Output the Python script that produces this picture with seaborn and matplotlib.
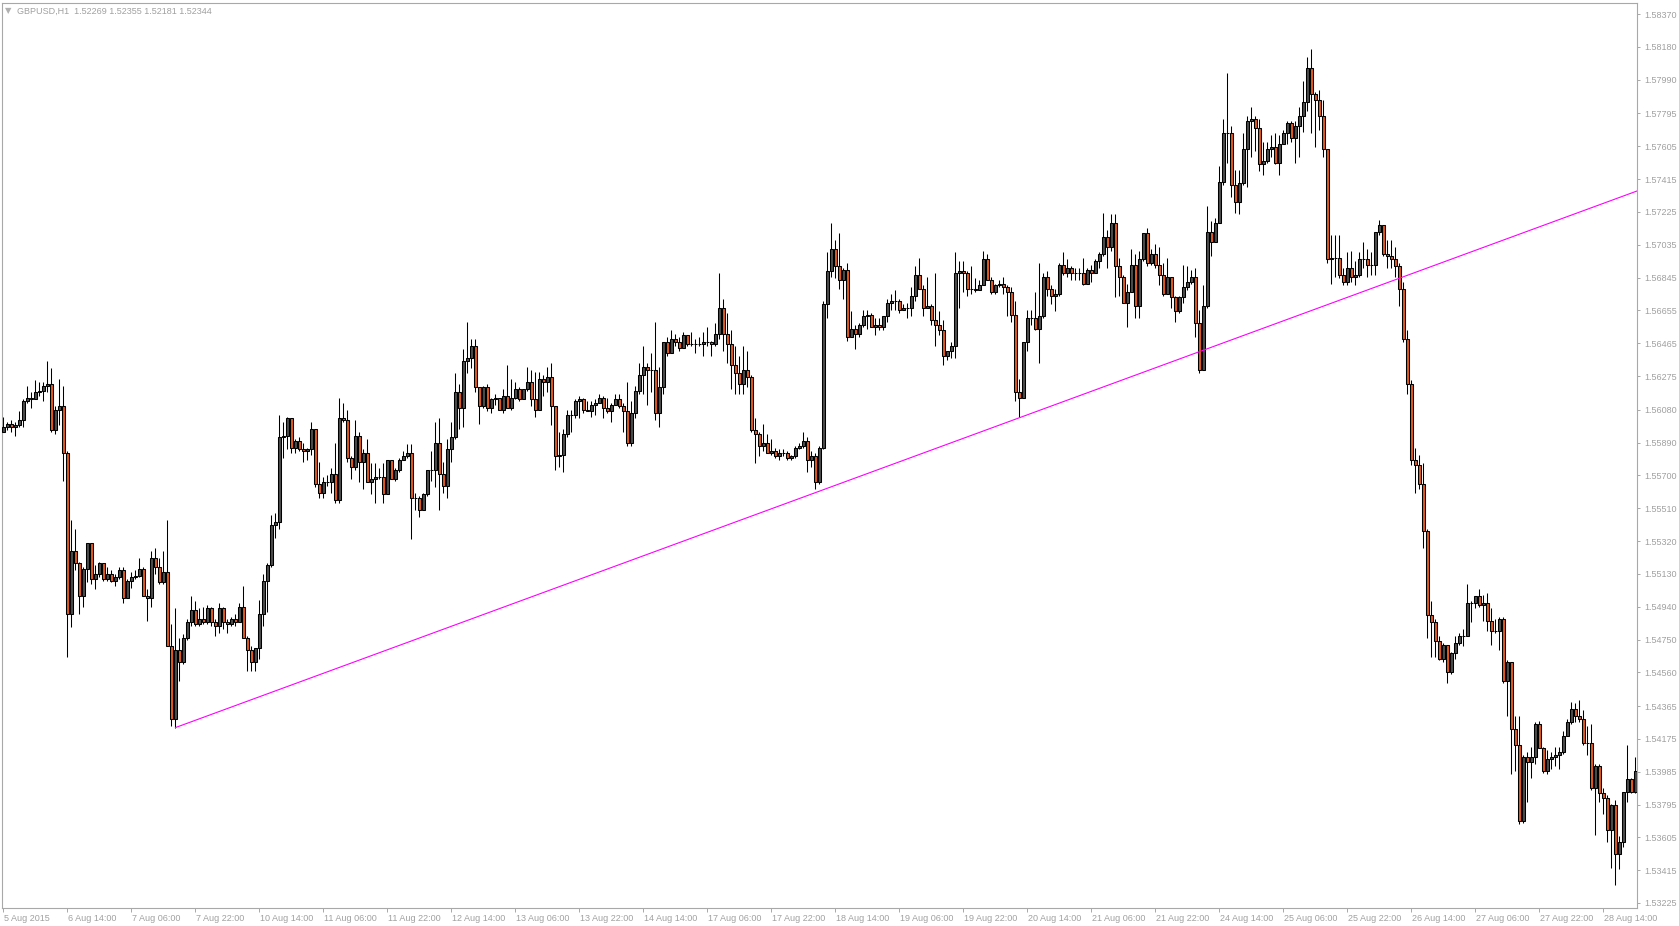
import numpy as np
import pandas as pd
import matplotlib
matplotlib.use("Agg")
import matplotlib.pyplot as plt
import matplotlib.transforms as mtransforms
import seaborn as sns

# ---------------- data ----------------
title_text = "GBPUSD,H1  1.52269 1.52355 1.52181 1.52344"

first_open = 1.5595

closes = [
    1.5598, 1.5600, 1.5598, 1.5599, 1.5602, 1.5613, 1.5615, 1.5614, 1.5618, 1.5619,
    1.5622, 1.5623, 1.5596, 1.5608, 1.5610, 1.5583, 1.5490, 1.5526, 1.5519, 1.5500,
    1.5516, 1.5531, 1.5510, 1.5513, 1.5519, 1.5510, 1.5513, 1.5509, 1.5511, 1.5515,
    1.5499, 1.5509, 1.5511, 1.5512, 1.5516, 1.5500, 1.5499, 1.5522, 1.5517, 1.5508,
    1.5514, 1.5471, 1.5429, 1.5469, 1.5462, 1.5476, 1.5485, 1.5492, 1.5484, 1.5487,
    1.5485, 1.5493, 1.5485, 1.5483, 1.5493, 1.5485, 1.5484, 1.5487, 1.5485, 1.5494,
    1.5476, 1.5469, 1.5462, 1.5470, 1.5490, 1.5509, 1.5518, 1.5541, 1.5543, 1.5592,
    1.5593, 1.5603, 1.5586, 1.5590, 1.5585, 1.5584, 1.5585, 1.5597, 1.5565, 1.5560,
    1.5566, 1.5566, 1.5571, 1.5556, 1.5603, 1.5602, 1.5580, 1.5575, 1.5593, 1.5578,
    1.5583, 1.5566, 1.5568, 1.5569, 1.5569, 1.5559, 1.5579, 1.5568, 1.5573, 1.5579,
    1.5581, 1.5583, 1.5557, 1.5557, 1.5550, 1.5559, 1.5573, 1.5573, 1.5589, 1.5571,
    1.5564, 1.5585, 1.5592, 1.5618, 1.5609, 1.5636, 1.5638, 1.5645, 1.5621, 1.5610,
    1.5621, 1.5609, 1.5614, 1.5615, 1.5608, 1.5616, 1.5609, 1.5615, 1.5620, 1.5614,
    1.5620, 1.5624, 1.5614, 1.5608, 1.5626, 1.5624, 1.5627, 1.5610, 1.5581, 1.5582,
    1.5594, 1.5605, 1.5605, 1.5613, 1.5614, 1.5608, 1.5607, 1.5611, 1.5612, 1.5615,
    1.5609, 1.5607, 1.5611, 1.5614, 1.5610, 1.5607, 1.5589, 1.5606, 1.5619, 1.5628,
    1.5633, 1.5631, 1.5631, 1.5606, 1.5621, 1.5647, 1.5641, 1.5649, 1.5647, 1.5644,
    1.5651, 1.5646, 1.5646, 1.5646, 1.5646, 1.5647, 1.5647, 1.5646, 1.5652, 1.5667,
    1.5652, 1.5646, 1.5634, 1.5629, 1.5623, 1.5631, 1.5627, 1.5596, 1.5594, 1.5587,
    1.5589, 1.5583, 1.5584, 1.5581, 1.5583, 1.5583, 1.5580, 1.5581, 1.5586, 1.5587,
    1.5590, 1.5579, 1.5581, 1.5566, 1.5586, 1.5669, 1.5688, 1.5701, 1.5691, 1.5683,
    1.5689, 1.5650, 1.5655, 1.5652, 1.5657, 1.5662, 1.5663, 1.5656, 1.5657, 1.5656,
    1.5662, 1.5670, 1.5671, 1.5671, 1.5666, 1.5667, 1.5667, 1.5674, 1.5686, 1.5678,
    1.5667, 1.5668, 1.5660, 1.5657, 1.5654, 1.5639, 1.5642, 1.5645, 1.5687, 1.5688,
    1.5687, 1.5678, 1.5678, 1.5677, 1.5680, 1.5695, 1.5683, 1.5676, 1.5680, 1.5681,
    1.5679, 1.5676, 1.5663, 1.5618, 1.5615, 1.5647, 1.5661, 1.5661, 1.5655, 1.5662,
    1.5685, 1.5678, 1.5674, 1.5675, 1.5692, 1.5687, 1.5690, 1.5687, 1.5687, 1.5687,
    1.5681, 1.5689, 1.5687, 1.5694, 1.5698, 1.5708, 1.5702, 1.5716, 1.5691, 1.5685,
    1.5670, 1.5676, 1.5692, 1.5668, 1.5695, 1.5710, 1.5693, 1.5698, 1.5692, 1.5686,
    1.5675, 1.5685, 1.5673, 1.5665, 1.5673, 1.5679, 1.5682, 1.5685, 1.5658, 1.5631,
    1.5668, 1.5711, 1.5705, 1.5716, 1.5740, 1.5768, 1.5768, 1.5738, 1.5728, 1.5739,
    1.5759, 1.5775, 1.5776, 1.5771, 1.5750, 1.5752, 1.5759, 1.5760, 1.5751, 1.5762,
    1.5768, 1.5774, 1.5765, 1.5772, 1.5778, 1.5786, 1.5806, 1.5791, 1.5787, 1.5778,
    1.5759, 1.5695, 1.5696, 1.5696, 1.5686, 1.5682, 1.5690, 1.5685, 1.5686, 1.5695,
    1.5695, 1.5692, 1.5692, 1.5711, 1.5715, 1.5698, 1.5697, 1.5695, 1.5691, 1.5678,
    1.5649, 1.5623, 1.5579, 1.5576, 1.5565, 1.5538, 1.5489, 1.5485, 1.5474, 1.5464,
    1.5472, 1.5456, 1.5467, 1.5473, 1.5477, 1.5477, 1.5496, 1.5496, 1.5500, 1.5495,
    1.5496, 1.5486, 1.5480, 1.5480, 1.5487, 1.5451, 1.5462, 1.5423, 1.5414, 1.5370,
    1.5407, 1.5404, 1.5407, 1.5426, 1.5412, 1.5399, 1.5406, 1.5407, 1.5408, 1.5410,
    1.5419, 1.5427, 1.5435, 1.5431, 1.5429, 1.5415, 1.5415, 1.5389, 1.5402, 1.5386,
    1.5383, 1.5365, 1.5379, 1.5351, 1.5358, 1.5387, 1.5394, 1.5387, 1.5399,
]

highs = [
    1.5604, 1.5601, 1.5602, 1.5601, 1.5607, 1.5614, 1.5622, 1.5618, 1.5625, 1.5624,
    1.5624, 1.5636, 1.5632, 1.5610, 1.5626, 1.5622, 1.5584, 1.5544, 1.5539, 1.5520,
    1.5517, 1.5531, 1.5531, 1.5518, 1.5520, 1.5519, 1.5517, 1.5515, 1.5513, 1.5517,
    1.5517, 1.5510, 1.5514, 1.5515, 1.5522, 1.5517, 1.5504, 1.5526, 1.5528, 1.5522,
    1.5526, 1.5544, 1.5484, 1.5493, 1.5476, 1.5478, 1.5487, 1.5500, 1.5497, 1.5493,
    1.5494, 1.5495, 1.5494, 1.5487, 1.5496, 1.5494, 1.5487, 1.5488, 1.5490, 1.5496,
    1.5506, 1.5477, 1.5471, 1.5470, 1.5498, 1.5513, 1.5519, 1.5547, 1.5548, 1.5605,
    1.5601, 1.5604, 1.5603, 1.5591, 1.5592, 1.5589, 1.5586, 1.5601, 1.5597, 1.5578,
    1.5569, 1.5570, 1.5574, 1.5589, 1.5615, 1.5612, 1.5608, 1.5581, 1.5602, 1.5595,
    1.5585, 1.5591, 1.5577, 1.5577, 1.5574, 1.5577, 1.5579, 1.5579, 1.5574, 1.5580,
    1.5584, 1.5588, 1.5588, 1.5560, 1.5558, 1.5560, 1.5573, 1.5584, 1.5601, 1.5603,
    1.5578, 1.5591, 1.5601, 1.5629, 1.5623, 1.5643, 1.5659, 1.5649, 1.5649, 1.5621,
    1.5622, 1.5623, 1.5615, 1.5617, 1.5615, 1.5620, 1.5634, 1.5626, 1.5624, 1.5621,
    1.5620, 1.5633, 1.5631, 1.5630, 1.5630, 1.5628, 1.5633, 1.5635, 1.5610, 1.5595,
    1.5597, 1.5608, 1.5608, 1.5614, 1.5616, 1.5615, 1.5613, 1.5613, 1.5614, 1.5617,
    1.5616, 1.5615, 1.5612, 1.5617, 1.5617, 1.5612, 1.5624, 1.5613, 1.5622, 1.5635,
    1.5645, 1.5635, 1.5641, 1.5659, 1.5633, 1.5647, 1.5650, 1.5654, 1.5652, 1.5650,
    1.5653, 1.5651, 1.5653, 1.5649, 1.5650, 1.5653, 1.5656, 1.5648, 1.5658, 1.5687,
    1.5672, 1.5664, 1.5654, 1.5645, 1.5639, 1.5645, 1.5642, 1.5628, 1.5603, 1.5595,
    1.5600, 1.5594, 1.5591, 1.5586, 1.5585, 1.5585, 1.5584, 1.5582, 1.5587, 1.5589,
    1.5595, 1.5592, 1.5584, 1.5583, 1.5587, 1.5671, 1.5699, 1.5716, 1.5706, 1.5710,
    1.5690, 1.5693, 1.5665, 1.5657, 1.5658, 1.5666, 1.5666, 1.5664, 1.5661, 1.5661,
    1.5662, 1.5672, 1.5675, 1.5677, 1.5672, 1.5669, 1.5670, 1.5679, 1.5691, 1.5696,
    1.5680, 1.5685, 1.5669, 1.5687, 1.5665, 1.5660, 1.5642, 1.5647, 1.5699, 1.5694,
    1.5694, 1.5688, 1.5691, 1.5684, 1.5683, 1.5700, 1.5698, 1.5685, 1.5681, 1.5683,
    1.5685, 1.5680, 1.5679, 1.5671, 1.5626, 1.5647, 1.5666, 1.5666, 1.5676, 1.5693,
    1.5687, 1.5688, 1.5680, 1.5678, 1.5693, 1.5699, 1.5695, 1.5691, 1.5690, 1.5690,
    1.5696, 1.5690, 1.5692, 1.5695, 1.5699, 1.5722, 1.5712, 1.5721, 1.5721, 1.5696,
    1.5686, 1.5681, 1.5701, 1.5698, 1.5700, 1.5710, 1.5713, 1.5701, 1.5704, 1.5702,
    1.5693, 1.5696, 1.5683, 1.5674, 1.5674, 1.5692, 1.5691, 1.5689, 1.5690, 1.5666,
    1.5680, 1.5726, 1.5717, 1.5719, 1.5749, 1.5776, 1.5803, 1.5772, 1.5747, 1.5747,
    1.5768, 1.5778, 1.5783, 1.5778, 1.5776, 1.5763, 1.5763, 1.5767, 1.5768, 1.5767,
    1.5770, 1.5775, 1.5775, 1.5775, 1.5783, 1.5798, 1.5812, 1.5817, 1.5792, 1.5793,
    1.5787, 1.5758, 1.5709, 1.5709, 1.5709, 1.5690, 1.5699, 1.5700, 1.5694, 1.5699,
    1.5705, 1.5701, 1.5699, 1.5711, 1.5718, 1.5715, 1.5706, 1.5706, 1.5702, 1.5693,
    1.5682, 1.5654, 1.5625, 1.5586, 1.5582, 1.5577, 1.5539, 1.5497, 1.5487, 1.5477,
    1.5473, 1.5472, 1.5468, 1.5477, 1.5479, 1.5481, 1.5507, 1.5497, 1.5500, 1.5504,
    1.5501, 1.5502, 1.5493, 1.5487, 1.5488, 1.5488, 1.5463, 1.5462, 1.5431, 1.5431,
    1.5408, 1.5410, 1.5413, 1.5427, 1.5428, 1.5413, 1.5411, 1.5410, 1.5413, 1.5413,
    1.5422, 1.5429, 1.5439, 1.5438, 1.5440, 1.5434, 1.5425, 1.5426, 1.5403, 1.5403,
    1.5389, 1.5385, 1.5380, 1.5382, 1.5361, 1.5387, 1.5414, 1.5395, 1.5407,
]

lows = [
    1.5595, 1.5596, 1.5595, 1.5593, 1.5598, 1.5598, 1.5612, 1.5609, 1.5614, 1.5616,
    1.5613, 1.5618, 1.5595, 1.5594, 1.5599, 1.5567, 1.5465, 1.5482, 1.5515, 1.5490,
    1.5494, 1.5508, 1.5507, 1.5504, 1.5511, 1.5509, 1.5509, 1.5508, 1.5506, 1.5510,
    1.5496, 1.5499, 1.5505, 1.5510, 1.5511, 1.5500, 1.5486, 1.5494, 1.5513, 1.5507,
    1.5507, 1.5471, 1.5425, 1.5424, 1.5451, 1.5461, 1.5475, 1.5483, 1.5483, 1.5483,
    1.5484, 1.5484, 1.5483, 1.5477, 1.5479, 1.5481, 1.5479, 1.5483, 1.5483, 1.5485,
    1.5476, 1.5457, 1.5457, 1.5457, 1.5464, 1.5483, 1.5491, 1.5517, 1.5534, 1.5539,
    1.5580, 1.5585, 1.5583, 1.5583, 1.5584, 1.5578, 1.5579, 1.5582, 1.5563, 1.5557,
    1.5557, 1.5564, 1.5560, 1.5554, 1.5554, 1.5601, 1.5578, 1.5568, 1.5573, 1.5566,
    1.5562, 1.5566, 1.5559, 1.5554, 1.5568, 1.5554, 1.5559, 1.5568, 1.5567, 1.5572,
    1.5579, 1.5580, 1.5533, 1.5550, 1.5546, 1.5550, 1.5558, 1.5567, 1.5563, 1.5550,
    1.5560, 1.5557, 1.5578, 1.5591, 1.5597, 1.5598, 1.5629, 1.5632, 1.5618, 1.5600,
    1.5609, 1.5607, 1.5606, 1.5611, 1.5608, 1.5606, 1.5609, 1.5608, 1.5614, 1.5613,
    1.5614, 1.5619, 1.5610, 1.5604, 1.5608, 1.5616, 1.5618, 1.5599, 1.5573, 1.5575,
    1.5572, 1.5592, 1.5595, 1.5603, 1.5603, 1.5606, 1.5607, 1.5604, 1.5605, 1.5612,
    1.5603, 1.5606, 1.5601, 1.5611, 1.5609, 1.5595, 1.5587, 1.5587, 1.5603, 1.5617,
    1.5617, 1.5611, 1.5618, 1.5602, 1.5598, 1.5617, 1.5639, 1.5641, 1.5645, 1.5642,
    1.5646, 1.5645, 1.5645, 1.5641, 1.5645, 1.5639, 1.5645, 1.5639, 1.5645, 1.5649,
    1.5642, 1.5635, 1.5620, 1.5617, 1.5617, 1.5617, 1.5621, 1.5595, 1.5577, 1.5581,
    1.5584, 1.5583, 1.5582, 1.5580, 1.5579, 1.5581, 1.5579, 1.5579, 1.5580, 1.5585,
    1.5586, 1.5572, 1.5575, 1.5562, 1.5565, 1.5585, 1.5661, 1.5685, 1.5684, 1.5678,
    1.5672, 1.5648, 1.5650, 1.5643, 1.5650, 1.5656, 1.5655, 1.5656, 1.5651, 1.5654,
    1.5654, 1.5659, 1.5666, 1.5666, 1.5664, 1.5666, 1.5661, 1.5662, 1.5671, 1.5678,
    1.5662, 1.5667, 1.5657, 1.5645, 1.5651, 1.5634, 1.5637, 1.5638, 1.5638, 1.5667,
    1.5676, 1.5674, 1.5675, 1.5676, 1.5677, 1.5680, 1.5683, 1.5675, 1.5675, 1.5679,
    1.5675, 1.5662, 1.5659, 1.5613, 1.5604, 1.5615, 1.5642, 1.5657, 1.5654, 1.5635,
    1.5661, 1.5674, 1.5669, 1.5665, 1.5674, 1.5686, 1.5685, 1.5683, 1.5683, 1.5683,
    1.5680, 1.5681, 1.5682, 1.5687, 1.5690, 1.5697, 1.5690, 1.5700, 1.5673, 1.5674,
    1.5670, 1.5656, 1.5676, 1.5661, 1.5661, 1.5694, 1.5691, 1.5692, 1.5690, 1.5680,
    1.5674, 1.5682, 1.5667, 1.5659, 1.5664, 1.5670, 1.5677, 1.5681, 1.5650, 1.5629,
    1.5631, 1.5667, 1.5697, 1.5705, 1.5716, 1.5738, 1.5751, 1.5731, 1.5722, 1.5721,
    1.5738, 1.5737, 1.5754, 1.5758, 1.5746, 1.5744, 1.5751, 1.5754, 1.5750, 1.5744,
    1.5762, 1.5762, 1.5763, 1.5751, 1.5754, 1.5769, 1.5781, 1.5768, 1.5760, 1.5770,
    1.5754, 1.5693, 1.5681, 1.5685, 1.5684, 1.5680, 1.5680, 1.5682, 1.5680, 1.5685,
    1.5690, 1.5685, 1.5686, 1.5686, 1.5709, 1.5697, 1.5690, 1.5690, 1.5685, 1.5668,
    1.5647, 1.5617, 1.5576, 1.5560, 1.5562, 1.5528, 1.5476, 1.5465, 1.5465, 1.5463,
    1.5462, 1.5450, 1.5455, 1.5464, 1.5472, 1.5471, 1.5477, 1.5485, 1.5493, 1.5494,
    1.5486, 1.5480, 1.5472, 1.5479, 1.5469, 1.5450, 1.5431, 1.5397, 1.5399, 1.5368,
    1.5369, 1.5381, 1.5395, 1.5403, 1.5412, 1.5398, 1.5397, 1.5400, 1.5402, 1.5400,
    1.5409, 1.5419, 1.5426, 1.5427, 1.5427, 1.5414, 1.5408, 1.5388, 1.5362, 1.5381,
    1.5374, 1.5358, 1.5343, 1.5333, 1.5342, 1.5355, 1.5381, 1.5386, 1.5386,
]

x_labels = [
    "5 Aug 2015", "6 Aug 14:00", "7 Aug 06:00", "7 Aug 22:00", "10 Aug 14:00",
    "11 Aug 06:00", "11 Aug 22:00", "12 Aug 14:00", "13 Aug 06:00", "13 Aug 22:00",
    "14 Aug 14:00", "17 Aug 06:00", "17 Aug 22:00", "18 Aug 14:00", "19 Aug 06:00",
    "19 Aug 22:00", "20 Aug 14:00", "21 Aug 06:00", "21 Aug 22:00", "24 Aug 14:00",
    "25 Aug 06:00", "25 Aug 22:00", "26 Aug 14:00", "27 Aug 06:00", "27 Aug 22:00",
    "28 Aug 14:00",
]
bars_per_label = 16

y_labels = [
    "1.58370", "1.58180", "1.57990", "1.57795", "1.57605", "1.57415", "1.57225",
    "1.57035", "1.56845", "1.56655", "1.56465", "1.56275", "1.56080", "1.55890",
    "1.55700", "1.55510", "1.55320", "1.55130", "1.54940", "1.54750", "1.54560",
    "1.54365", "1.54175", "1.53985", "1.53795", "1.53605", "1.53415", "1.53225",
]

trend_bars = [43, 203]
trend_prices = [1.5424, 1.5560]

price_range = (1.53196, 1.58434)
bar_range = (-0.33, 408.4)

# ---------------- style ----------------
sns.set_theme(style="white")
plt.rcParams['font.family'] = ['Liberation Sans', 'DejaVu Sans']

TXT = '#a0a0a0'
AXC = '#a8a8a8'
BULL = '#4b4b4b'
BEAR = '#e2561e'

W, H = 1679, 926
fig = plt.figure(figsize=(W / 100, H / 100), dpi=100)
fig.patch.set_facecolor('white')
ax = fig.add_axes([2 / W, 18 / H, 1635 / W, 905 / H])
ax.set_facecolor('white')

# ---------------- candles ----------------
c = np.array(closes)
o = np.r_[first_open, c[:-1]]
hi = np.maximum(np.array(highs), np.maximum(o, c))
lo = np.minimum(np.array(lows), np.minimum(o, c))
df = pd.DataFrame({"bar": np.arange(len(c)), "open": o, "high": hi, "low": lo, "close": c})
df["up"] = df["close"] >= df["open"]

ax.vlines(df["bar"], df["low"], df["high"], color='black', linewidth=0.75, zorder=2)
ax.bar(df["bar"], (df["close"] - df["open"]).abs(),
       bottom=np.minimum(df["open"], df["close"]), width=0.72,
       color=np.where(df["up"], BULL, BEAR), edgecolor='black',
       linewidth=0.75, zorder=3)

# ---------------- trend line (ray to the right edge) ----------------
slope = (trend_prices[1] - trend_prices[0]) / (trend_bars[1] - trend_bars[0])
x_end = bar_range[1] + 2
tl = pd.DataFrame({"bar": [trend_bars[0], x_end],
                   "price": [trend_prices[0], trend_prices[0] + slope * (x_end - trend_bars[0])]})
sns.lineplot(data=tl, x="bar", y="price", color='#ff00ff', linewidth=0.8, ax=ax, zorder=4)

# ---------------- axes ----------------
ax.set_xlim(*bar_range)
ax.set_ylim(*price_range)
ax.set_xlabel("")
ax.set_ylabel("")
for sp in ax.spines.values():
    sp.set_visible(True)
    sp.set_color(AXC)
    sp.set_linewidth(0.8)

ax.yaxis.tick_right()
ax.set_yticks([float(v) for v in y_labels])
ax.set_yticklabels(y_labels)
ax.tick_params(axis='y', which='both', right=True, left=False, direction='out',
               length=2, width=0.7, color=AXC, labelsize=6.5, labelcolor=TXT, pad=3)

xt = [i * bars_per_label for i in range(len(x_labels))]
ax.set_xticks(xt)
ax.set_xticklabels(x_labels)
ax.tick_params(axis='x', which='both', bottom=True, direction='out', length=3,
               width=0.7, color=AXC, labelsize=6.5, labelcolor=TXT, pad=1.5)
offset = mtransforms.ScaledTranslation(0.5 / 72, 0, fig.dpi_scale_trans)
for lbl in ax.get_xticklabels():
    lbl.set_horizontalalignment('left')
    lbl.set_transform(lbl.get_transform() + offset)
ax.grid(False)

# ---------------- header ----------------
fig.text(5 / W, 1 - 11 / H, "▼", fontsize=6, color='#b0b0b0', va='center', ha='left',
         family=['DejaVu Sans'])
fig.text(17 / W, 1 - 11 / H, title_text, fontsize=6.5, color=TXT, va='center', ha='left')

fig.savefig("out.png", dpi=100, facecolor='white')
